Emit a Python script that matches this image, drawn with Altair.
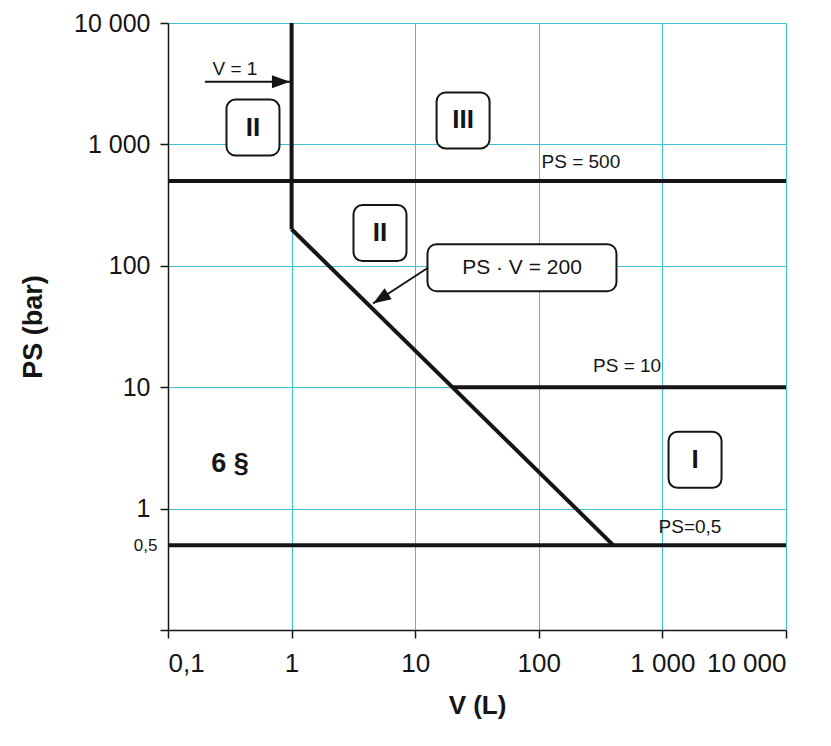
import altair as alt
import pandas as pd

# ---- boundary lines (V in L, PS in bar) ----
seg_name = ["V=1", "V=1", "PS=500", "PS=500", "PSV", "PSV", "PS=10", "PS=10", "PS=0.5", "PS=0.5"]
seg_v = [1, 1, 0.1, 10000, 1, 400, 20, 10000, 0.1, 10000]
seg_ps = [200, 10000, 500, 500, 200, 0.5, 10, 10, 0.5, 0.5]
seg_ord = [0, 1, 0, 1, 0, 1, 0, 1, 0, 1]

# ---- category boxes ----
box_label = ["II", "III", "II", "I"]
box_v = [0.487, 24.4, 5.19, 1837]
box_ps = [1377, 1575, 186, 2.52]

# ---- plain labels ----
lab_text = ["V = 1", "PS = 500", "PS = 10", "PS=0,5"]
lab_v = [0.348, 219, 518, 1671]
lab_ps = [4200, 711, 14.9, 0.711]

# ---- callout box ----
call_text = ["PS · V = 200"]
call_v = [73.1]
call_ps = [96.4]

# ---- arrows ----
arr_v1 = [0.199, 12.7]
arr_ps1 = [3281, 96.4]
arr_v2 = [0.97, 4.56]
arr_ps2 = [3281, 48.9]
arr_angle = [90, 237]

x_ticks = [0.1, 1, 10, 100, 1000, 10000]
x_labels = ["0,1", "1", "10", "100", "1 000", "10 000"]
y_ticks = [0.1, 0.5, 1, 10, 100, 1000, 10000]
y_labels = ["", "0,5", "1", "10", "100", "1 000", "10 000"]

FONT = "Liberation Sans"
INK = "#151515"
GRID = "#3cc4d4"


def label_expr(vals, labs):
    expr = "''"
    for v, l in reversed(list(zip(vals, labs))):
        expr = f"datum.value == {v} ? '{l}' : ({expr})"
    return expr


xs = alt.Scale(type="log", domain=[0.1, 10000], nice=False)
ys = alt.Scale(type="log", domain=[0.1, 10000], nice=False)

seg_df = pd.DataFrame({"seg": seg_name, "V": seg_v, "PS": seg_ps, "o": seg_ord})
box_df = pd.DataFrame({"t": box_label, "V": box_v, "PS": box_ps})
lab_df = pd.DataFrame({"t": lab_text, "V": lab_v, "PS": lab_ps})
call_df = pd.DataFrame({"t": call_text, "V": call_v, "PS": call_ps})
arr_df = pd.DataFrame({"V": arr_v1, "PS": arr_ps1, "V2": arr_v2, "PS2": arr_ps2, "ang": arr_angle})

x_axis = alt.Axis(
    values=x_ticks, labelExpr=label_expr(x_ticks, x_labels), title="V (L)",
    labelFont=FONT, labelFontSize=26, labelColor=INK, labelPadding=12,
    titleFont=FONT, titleFontSize=26, titleFontWeight="bold", titleColor=INK, titlePadding=16,
    grid=True, gridColor=GRID, gridWidth=1,
    tickColor=INK, tickSize=8, tickWidth=1.5, domainColor=INK, domainWidth=1.5,
)
y_axis = alt.Axis(
    values=y_ticks, labelExpr=label_expr(y_ticks, y_labels), title="PS (bar)",
    labelFont=FONT, labelColor=INK,
    labelFontSize={"condition": {"test": "datum.value == 0.5", "value": 17}, "value": 25},
    labelPadding={"condition": {"test": "datum.value == 0.5", "value": 3}, "value": 10},
    titleFont=FONT, titleFontSize=27, titleFontWeight="bold", titleColor=INK, titlePadding=26,
    grid=True, gridColor=GRID, gridWidth=1,
    gridOpacity={"condition": {"test": "datum.value == 0.5", "value": 0}, "value": 1},
    tickOpacity={"condition": {"test": "datum.value == 0.5", "value": 0}, "value": 1},
    tickColor=INK, tickSize=8, tickWidth=1.5, domainColor=INK, domainWidth=1.5,
)

base_x = alt.X("V:Q", scale=xs, axis=x_axis)
base_y = alt.Y("PS:Q", scale=ys, axis=y_axis)

lines = alt.Chart(seg_df).mark_line(color=INK, strokeWidth=4, strokeCap="butt").encode(
    x=base_x, y=base_y, detail="seg:N", order="o:Q"
)

boxes = alt.Chart(box_df).mark_rect(
    width=53, height=56, cornerRadius=9, fill="white", stroke=INK, strokeWidth=2
).encode(x=alt.X("V:Q", scale=xs), y=alt.Y("PS:Q", scale=ys))

box_text = alt.Chart(box_df).mark_text(
    font="Liberation Sans Narrow, Liberation Sans", fontSize=26, fontWeight="bold",
    color=INK, align="center", baseline="middle"
).encode(x=alt.X("V:Q", scale=xs), y=alt.Y("PS:Q", scale=ys), text="t:N")

labels = alt.Chart(lab_df).mark_text(
    font=FONT, fontSize=19, color=INK, align="center", baseline="middle"
).encode(x=alt.X("V:Q", scale=xs), y=alt.Y("PS:Q", scale=ys), text="t:N")

call_box = alt.Chart(call_df).mark_rect(
    width=189, height=47, cornerRadius=9, fill="white", stroke=INK, strokeWidth=2
).encode(x=alt.X("V:Q", scale=xs), y=alt.Y("PS:Q", scale=ys))

call_text_m = alt.Chart(call_df).mark_text(
    font=FONT, fontSize=21, color=INK, align="center", baseline="middle"
).encode(x=alt.X("V:Q", scale=xs), y=alt.Y("PS:Q", scale=ys), text="t:N")

six = alt.Chart(pd.DataFrame({"t": ["6 §"], "V": [0.318], "PS": [2.34]})).mark_text(
    font=FONT, fontSize=27, fontWeight="bold", color=INK, align="center", baseline="middle"
).encode(x=alt.X("V:Q", scale=xs), y=alt.Y("PS:Q", scale=ys), text="t:N")

shafts = alt.Chart(arr_df).mark_rule(color=INK, strokeWidth=2).encode(
    x=alt.X("V:Q", scale=xs), y=alt.Y("PS:Q", scale=ys), x2="V2:Q", y2="PS2:Q"
)

heads = alt.Chart(arr_df).mark_point(
    shape="M0,0 L-0.36,1 L0.36,1 Z", size=1296, filled=True, color=INK, opacity=1
).encode(
    x=alt.X("V2:Q", scale=xs), y=alt.Y("PS2:Q", scale=ys),
    angle=alt.Angle("ang:Q", scale=None),
)

chart = alt.layer(
    lines, boxes, box_text, labels, call_box, call_text_m, six, shafts, heads
).properties(
    width=618, height=607,
    autosize=alt.AutoSizeParams(type="none"),
    padding={"left": 160, "top": 15, "right": 34, "bottom": 100},
    background="white",
).configure_view(stroke=None)

chart.save("out.html", embed_options={"renderer": "svg", "actions": False})
